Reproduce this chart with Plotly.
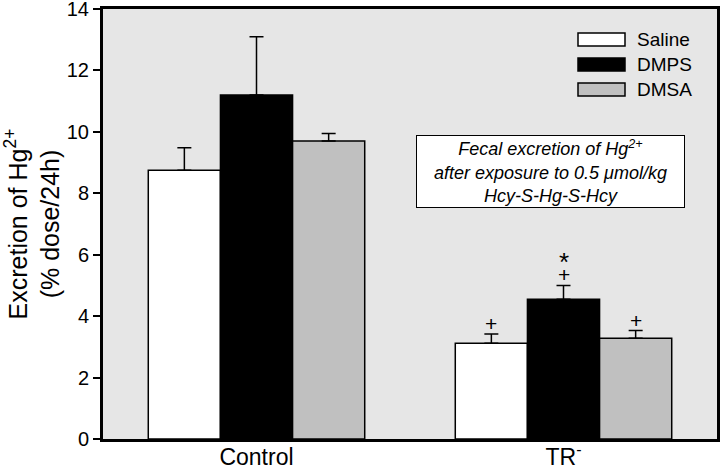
import plotly.graph_objects as go

groups = ["Control", "TR<sup>-</sup>"]
treatments = ["Saline", "DMPS", "DMSA"]
saline = [8.75, 3.12]
dmps = [11.2, 4.55]
dmsa = [9.7, 3.28]
saline_err = [0.73, 0.3]
dmps_err = [1.9, 0.45]
dmsa_err = [0.25, 0.25]
colors = ["#ffffff", "#000000", "#c0c0c0"]
yticks = [0, 2, 4, 6, 8, 10, 12, 14]
# significance markers: (group index, treatment index, label)
markers = [(1, 0, "+"), (1, 1, "+"), (1, 2, "+")]
star = [(1, 1, "*")]

values = [saline, dmps, dmsa]
errors = [saline_err, dmps_err, dmsa_err]

FONT = "Liberation Sans"
bar_w = 0.235
fig = go.Figure()
for i, name in enumerate(treatments):
    fig.add_trace(go.Bar(
        x=[0, 1], y=values[i], name=name,
        width=bar_w, offset=(i - 1.5) * bar_w,
        marker=dict(color=colors[i], line=dict(color="black", width=1.5)),
        error_y=dict(type="data", array=errors[i], arrayminus=[0, 0], symmetric=False,
                     color="black", thickness=1.5, width=7),
        showlegend=False,
    ))

annotations = []
for g, t, lab in markers:
    top = values[t][g] + errors[t][g]
    annotations.append(dict(x=g + (t - 1) * bar_w, y=top, text=lab, showarrow=False,
                            yanchor="bottom", yshift=-3, xref="x", yref="y",
                            font=dict(size=21, color="black", family=FONT)))
for g, t, lab in star:
    top = values[t][g] + errors[t][g]
    annotations.append(dict(x=g + (t - 1) * bar_w, y=top, text=lab, showarrow=False,
                            yanchor="bottom", yshift=6, xref="x", yref="y",
                            font=dict(size=26, color="black", family=FONT)))

# custom legend
PL, PT, PW, PH = 103, 9, 614, 430
shapes = []
for i, name in enumerate(treatments):
    y0 = 33 + i * 25
    shapes.append(dict(type="rect", xref="paper", yref="paper",
                       x0=(578 - PL) / PW, x1=(625 - PL) / PW,
                       y0=1 - (y0 + 13 - PT) / PH, y1=1 - (y0 - PT) / PH,
                       fillcolor=colors[i], line=dict(color="black", width=1.5)))
    annotations.append(dict(xref="paper", yref="paper", x=(635 - PL) / PW,
                            y=1 - (y0 + 6.5 - PT) / PH, text=name, showarrow=False,
                            xanchor="left", yanchor="middle",
                            font=dict(size=19, color="black", family=FONT)))

annotations.append(dict(xref="paper", yref="paper", x=(550.5 - PL) / PW, y=1 - (171.5 - PT) / PH,
                        text="<i>Fecal excretion of Hg<sup>2+</sup><br>after exposure to 0.5 \u03bcmol/kg<br>Hcy-S-Hg-S-Hcy</i>",
                        showarrow=False, xanchor="center", yanchor="middle",
                        bordercolor="black", borderwidth=1, bgcolor="white",
                        borderpad=0, width=267, height=71, align="center",
                        font=dict(size=18, color="black", family=FONT)))

fig.update_layout(
    width=720, height=467,
    margin=dict(l=PL, r=720 - PL - PW, t=PT, b=467 - PT - PH),
    paper_bgcolor="white", plot_bgcolor="#e6e6e6",
    barmode="overlay",
    font=dict(family=FONT, color="black"),
    annotations=annotations, shapes=shapes,
    xaxis=dict(range=[-0.5, 1.5], tickvals=[0, 1], ticktext=groups, automargin=False,
               showgrid=False, zeroline=False, showline=True, linecolor="black",
               linewidth=3, mirror=True, ticks="", tickfont=dict(size=23),
               ticklabelstandoff=-5, ticklabeloverflow="allow"),
    yaxis=dict(range=[0, 14], tickvals=yticks, showgrid=False, zeroline=False,
               automargin=False, ticklabeloverflow="allow",
               showline=True, linecolor="black", linewidth=3, mirror=True,
               ticks="outside", ticklen=7, tickwidth=1.5, tickcolor="black",
               tickfont=dict(size=20),
               title=dict(text="Excretion of Hg<sup>2+</sup><br>(% dose/24h)",
                          font=dict(size=25), standoff=9)),
)
fig.write_html("out.html", config={"displayModeBar": False},
               post_script="document.body.style.margin='0px';document.body.style.overflow='hidden';")
